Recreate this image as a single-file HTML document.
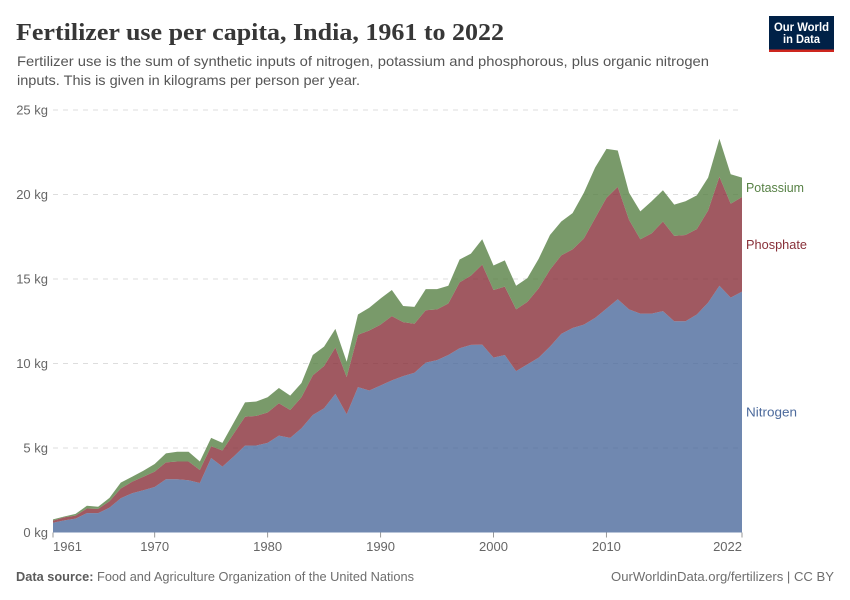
<!DOCTYPE html>
<html lang="en">
<head>
<meta charset="utf-8">
<title>Fertilizer use per capita, India, 1961 to 2022</title>
<style>
html,body{margin:0;padding:0;background:#fff}
svg{display:block}
text{font-family:"Liberation Sans",sans-serif}
</style>
</head>
<body>
<svg id="chart" width="850" height="600" viewBox="0 0 850 600" xmlns="http://www.w3.org/2000/svg">
  <text x="16" y="40" font-size="24" font-weight="bold" fill="#373737" textLength="488" lengthAdjust="spacingAndGlyphs" style="font-family:'Liberation Serif',serif">Fertilizer use per capita, India, 1961 to 2022</text>
  <text x="17" y="66" font-size="14" fill="#555" textLength="692" lengthAdjust="spacingAndGlyphs">Fertilizer use is the sum of synthetic inputs of nitrogen, potassium and phosphorous, plus organic nitrogen</text>
  <text x="17" y="85" font-size="14" fill="#555" textLength="343" lengthAdjust="spacingAndGlyphs">inputs. This is given in kilograms per person per year.</text>

  <g>
    <rect x="769" y="16" width="65" height="36" fill="#002147"/>
    <rect x="769" y="49.5" width="65" height="2.5" fill="#ce261e"/>
    <text x="801.5" y="31" font-size="11.5" font-weight="bold" fill="#fff" text-anchor="middle" textLength="55" lengthAdjust="spacingAndGlyphs">Our World</text>
    <text x="801.5" y="43" font-size="11.5" font-weight="bold" fill="#fff" text-anchor="middle" textLength="37" lengthAdjust="spacingAndGlyphs">in Data</text>
  </g>

  <g id="grid"></g>
  <g id="areas"></g>
  <g id="axes"></g>
  <g id="labels"></g>

  <text x="16" y="581" font-size="12.5" fill="#6e6e6e" textLength="398" lengthAdjust="spacingAndGlyphs"><tspan font-weight="bold" fill="#5b5b5b">Data source:</tspan> Food and Agriculture Organization of the United Nations</text>
  <text x="834" y="581" font-size="12.5" fill="#6e6e6e" text-anchor="end" textLength="223" lengthAdjust="spacingAndGlyphs">OurWorldinData.org/fertilizers | CC BY</text>
</svg>
<script>
const firstYear = 1961;
const lastYear = 2022;
const nitrogen = [0.58,0.72,0.82,1.15,1.15,1.47,2.03,2.32,2.5,2.69,3.15,3.15,3.09,2.93,4.41,3.9,4.5,5.14,5.15,5.3,5.73,5.6,6.17,6.95,7.35,8.2,7.0,8.6,8.4,8.7,9.0,9.25,9.45,10.05,10.2,10.5,10.9,11.1,11.12,10.35,10.5,9.55,9.95,10.35,11.0,11.75,12.1,12.3,12.7,13.25,13.8,13.2,12.95,12.95,13.1,12.5,12.5,12.9,13.6,14.6,13.9,14.25];
const phosphate = [0.12,0.18,0.18,0.27,0.25,0.38,0.57,0.68,0.8,0.91,1.0,1.05,1.11,0.77,0.69,0.95,1.35,1.71,1.75,1.8,1.92,1.65,1.83,2.35,2.5,2.75,2.2,3.1,3.55,3.6,3.8,3.2,2.9,3.1,3.0,3.05,3.9,4.1,4.73,4.0,4.05,3.65,3.7,4.1,4.55,4.65,4.65,5.1,5.9,6.55,6.65,5.3,4.4,4.75,5.3,5.05,5.1,5.05,5.45,6.45,5.55,5.6];
const potassium = [0.08,0.05,0.1,0.16,0.12,0.2,0.35,0.3,0.35,0.45,0.53,0.58,0.58,0.5,0.5,0.45,0.65,0.85,0.85,0.9,0.9,0.85,0.85,1.2,1.15,1.1,0.9,1.2,1.35,1.55,1.55,0.95,1.0,1.25,1.2,1.05,1.35,1.3,1.5,1.45,1.55,1.4,1.4,1.75,2.05,2.0,2.15,2.7,3.0,2.9,2.15,1.6,1.65,1.9,1.85,1.85,2.0,2.0,1.95,2.25,1.75,1.15];
const yTicks = [0,5,10,15,20,25];
const xTicks = [1961,1970,1980,1990,2000,2010,2022];

const NS = 'http://www.w3.org/2000/svg';
const plotLeft = 53, plotRight = 742, plotBottom = 532.5, plotTop = 110;
function xScale(year){ return plotLeft + (year - firstYear) / (lastYear - firstYear) * (plotRight - plotLeft); }
function yScale(v){ return plotBottom - v / 25 * (plotBottom - plotTop); }
function make(tag, attrs, parent){
  const el = document.createElementNS(NS, tag);
  for (const k in attrs) el.setAttribute(k, attrs[k]);
  parent.appendChild(el);
  return el;
}

const grid = document.getElementById('grid');
const axes = document.getElementById('axes');
const areas = document.getElementById('areas');
const labels = document.getElementById('labels');

yTicks.forEach(function(t){
  if (t > 0) {
    const line = make('line', {x1: plotLeft, x2: plotRight, y1: yScale(t), y2: yScale(t), stroke: '#dddddd', 'stroke-width': 1, 'stroke-dasharray': '5 5'}, grid);
    
    
  }
  const label = make('text', {x: 48, y: yScale(t) + 4.5, 'text-anchor': 'end', 'font-size': 13, fill: '#666'}, axes);
  label.textContent = t + ' kg';
  
  
});

xTicks.forEach(function(t, i){
  const tick = make('line', {x1: xScale(t), x2: xScale(t), y1: plotBottom, y2: plotBottom + 5, stroke: '#999', 'stroke-width': 1}, axes);
  
  
  const anchor = i === 0 ? 'start' : (i === xTicks.length - 1 ? 'end' : 'middle');
  const label = make('text', {x: xScale(t), y: 551, 'text-anchor': anchor, 'font-size': 13, fill: '#666'}, axes);
  label.textContent = t;
  
  
});

const seriesNames = ['Nitrogen','Phosphate','Potassium'];
const seriesValues = [nitrogen, phosphate, potassium];
const seriesColors = ['#4c6a9c','#883039','#578145'];
const labelColors = ['#4c6a9c','#883039','#578145'];
const labelLengths = [51,61,58];
let baseline = nitrogen.map(function(){ return 0; });
seriesValues.forEach(function(vals, s){
  const tops = vals.map(function(v, i){ return baseline[i] + v; });
  const upper = tops.map(function(v, i){ return xScale(firstYear + i).toFixed(2) + ',' + yScale(v).toFixed(2); });
  const lower = baseline.map(function(v, i){ return xScale(firstYear + i).toFixed(2) + ',' + yScale(v).toFixed(2); }).reverse();
  const poly = make('polygon', {points: upper.concat(lower).join(' '), fill: seriesColors[s], 'fill-opacity': 0.8, stroke: 'none'}, areas);
  
  
  const last = vals.length - 1;
  const mid = (tops[last] + baseline[last]) / 2;
  const text = make('text', {x: 746, y: yScale(mid) + 4.5, 'font-size': 13, fill: labelColors[s], textLength: labelLengths[s], lengthAdjust: 'spacingAndGlyphs'}, labels);
  text.textContent = seriesNames[s];
  
  
  baseline = tops;
});
</script>
</body>
</html>
